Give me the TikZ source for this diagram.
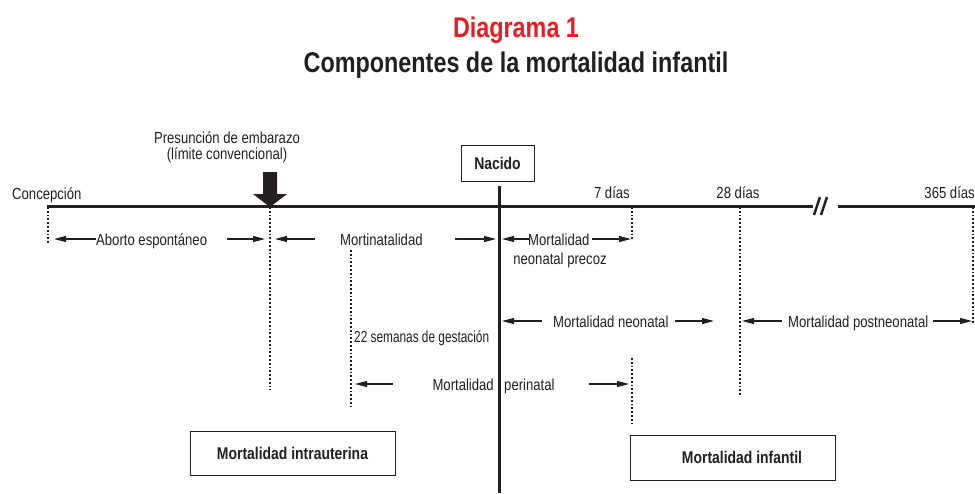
\documentclass[tikz,border=0pt]{standalone}
\usepackage{fontspec}
\setmainfont[FakeStretch=0.82]{Liberation Sans}
\newfontfamily\narrowfont[FakeStretch=0.74]{Liberation Sans}
\usetikzlibrary{arrows.meta}
\definecolor{ink}{RGB}{35,31,32}
\definecolor{titlered}{RGB}{227,30,36}
\begin{document}
\begin{tikzpicture}[x=1pt,y=-1pt,
  lbl/.style={font=\fontsize{16}{18}\selectfont, text=ink, inner sep=0pt},
  ttl/.style={font=\bfseries\fontsize{28.5}{30}\selectfont, inner sep=0pt, anchor=base},
  boxlbl/.style={draw=ink, line width=0.9pt, font=\bfseries\fontsize{17}{19}\selectfont, text=ink, inner sep=0pt},
  boldtxt/.style={font=\bfseries\fontsize{17}{19}\selectfont, text=ink, inner sep=0pt},
  dots/.style={draw=ink, line width=1.7pt, dash pattern=on 1.7pt off 2.1pt},
  arr/.style={draw=ink, line width=1.1pt, -{Triangle[length=12pt,width=6pt]}},
  axis/.style={draw=ink, line width=3pt},
]
\useasboundingbox (0,0) rectangle (975,493);

% titles
\node[ttl, text=titlered] (t1) at (516,37) {Diagrama 1};
\node[ttl, text=ink] (t2) at (516,72) {Componentes de la mortalidad infantil};

% timeline coordinates
\coordinate (c0) at (47,206);
\coordinate (cp) at (270,206);
\coordinate (c22) at (351,206);
\coordinate (cb) at (499,206);
\coordinate (c7) at (632,206);
\coordinate (c28) at (740,206);
\coordinate (brk1) at (813,206);
\coordinate (brk2) at (838,206);
\coordinate (c365) at (975,206);

\draw[axis] (c0) -- (brk1);
\draw[axis] (brk2) -- (c365);
\draw[draw=ink, line width=2.4pt] (814,215) -- (820,197);
\draw[draw=ink, line width=2.4pt] (821,215) -- (827,197);

% labels on the axis
\node[lbl, anchor=base west] (conc) at (12,199) {Concepción};
\node[lbl, anchor=base east] (d7) at (630,198) {7 días};
\node[lbl, anchor=base] (d28) at (738,198) {28 días};
\node[lbl, anchor=base east] (d365) at (975,198) {365 días};
\node[lbl, anchor=base] (pres1) at (227,143) {Presunción de embarazo};
\node[lbl, anchor=base] (pres2) at (227,159) {(límite convencional)};

% big arrow
\fill[ink] (263,172) -- (277,172) -- (277,194) -- (287,194) -- (270,207) -- (253,194) -- (263,194) -- cycle;

% Nacido box and birth line
\node[boxlbl, minimum width=73pt, minimum height=36pt] (nac) at (497.5,163) {Nacido};
\coordinate (bend) at (499,493);
\draw[draw=ink, line width=3pt] (499,186) -- (bend);

% dotted verticals
\coordinate (e0) at (48,243);
\coordinate (ep) at (270,390);
\coordinate (s22a) at (351,250);
\coordinate (s22b) at (351,406);
\coordinate (e7) at (632,241);
\coordinate (p7a) at (632,358);
\coordinate (p7b) at (632,425);
\coordinate (e28) at (740,396);
\coordinate (e365) at (973,324);
\draw[dots] (48,207) -- (e0);
\draw[dots] (270,207) -- (ep);
\draw[dots] (s22a) -- (s22b);
\draw[dots] (632,207) -- (e7);
\draw[dots] (p7a) -- (p7b);
\draw[dots] (740,207) -- (e28);
\draw[dots] (973,207) -- (e365);

% row 1
\node[lbl, anchor=base west] (abo) at (96,245) {Aborto espontáneo};
\coordinate (a1t) at (54,239);
\coordinate (a2s) at (227,239);
\coordinate (a2t) at (265,239);
\coordinate (a3s) at (315,239);
\coordinate (a3t) at (275,239);
\draw[arr] (96,239) -- (a1t);
\draw[arr] (a2s) -- (a2t);
\draw[arr] (a3s) -- (a3t);
\node[lbl, anchor=base west] (mort) at (340,245) {Mortinatalidad};
\coordinate (a4s) at (455,239);
\coordinate (a4t) at (496,239);
\draw[arr] (a4s) -- (a4t);
\node[lbl, anchor=base west] (mnp) at (528,245) {Mortalidad};
\node[lbl, anchor=base] (mnp2) at (560,264) {neonatal precoz};
\coordinate (a5t) at (502,239);
\coordinate (a6t) at (631,239);
\draw[arr] (528.5,239) -- (a5t);
\draw[arr] (591.5,239) -- (a6t);

% row 2
\node[lbl, anchor=base west, font=\narrowfont\fontsize{16}{18}\selectfont] (sem) at (354,342) {22 semanas de gestación};
\node[lbl, anchor=base west] (mn) at (553,327) {Mortalidad neonatal};
\coordinate (b1s) at (542,321);
\coordinate (b1t) at (502,321);
\coordinate (b2s) at (675,321);
\coordinate (b2t) at (714,321);
\draw[arr] (b1s) -- (b1t);
\draw[arr] (b2s) -- (b2t);
\node[lbl, anchor=base west] (mpn) at (788,327) {Mortalidad postneonatal};
\coordinate (b3s) at (782,321);
\coordinate (b3t) at (742,321);
\coordinate (b4s) at (933,321);
\coordinate (b4t) at (972,321);
\draw[arr] (b3s) -- (b3t);
\draw[arr] (b4s) -- (b4t);

% row 3
\node[lbl, anchor=base east] (mp1) at (494,390) {Mortalidad};
\node[lbl, anchor=base west] (mp2) at (504,390) {perinatal};
\coordinate (c1s) at (393,384);
\coordinate (c1t) at (355,384);
\coordinate (c2s) at (589,384);
\coordinate (c2t) at (629,384);
\draw[arr] (c1s) -- (c1t);
\draw[arr] (c2s) -- (c2t);

% bottom boxes
\node[boxlbl, minimum width=205pt, minimum height=44pt] (intra) at (292.5,453) {Mortalidad intrauterina};
\node[boxlbl, minimum width=205pt, minimum height=45pt] (inf) at (732.5,457.5) {};
\node[boldtxt] (inftxt) at (742,457.5) {Mortalidad infantil};
\end{tikzpicture}
\end{document}
